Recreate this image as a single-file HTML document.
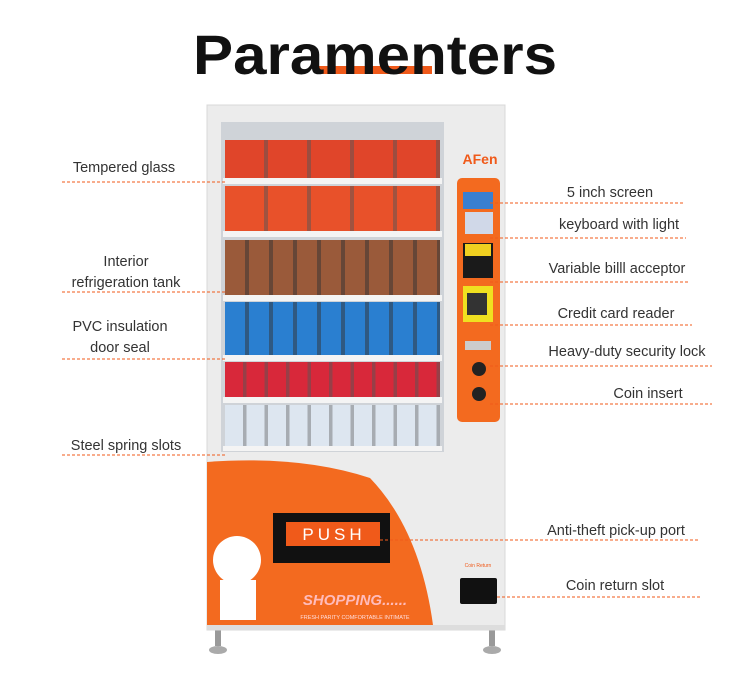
<!DOCTYPE html>
<html><head><meta charset="utf-8"><style>
html,body{margin:0;padding:0;background:#fff;width:750px;height:681px;overflow:hidden}
svg{display:block}
text{font-family:"Liberation Sans",sans-serif}
.l{font-size:14.5px;fill:#333;text-anchor:middle}
.d{stroke:#f05a1a;stroke-width:1;stroke-dasharray:3 2;fill:none}
</style></head><body>
<svg width="750" height="681" viewBox="0 0 750 681">
<defs>
<pattern id="p5" x="225" y="0" width="43" height="10" patternUnits="userSpaceOnUse"><rect x="39" y="0" width="4" height="10" fill="#555"/></pattern>
<pattern id="p9" x="225" y="0" width="24" height="10" patternUnits="userSpaceOnUse"><rect x="20" y="0" width="4" height="10" fill="#333"/></pattern>
<pattern id="p10" x="225" y="0" width="21.5" height="10" patternUnits="userSpaceOnUse"><rect x="18" y="0" width="3.5" height="10" fill="#555"/></pattern>
</defs>
<rect x="317" y="66" width="115" height="8" fill="#f05a1a"/>
<text x="375" y="74" font-size="56" font-weight="bold" text-anchor="middle" fill="#111" textLength="364" lengthAdjust="spacingAndGlyphs">Paramenters</text>

<rect x="215" y="628" width="6" height="18" fill="#999"/><ellipse cx="218" cy="650" rx="9" ry="4" fill="#aaa"/>
<rect x="489" y="628" width="6" height="18" fill="#999"/><ellipse cx="492" cy="650" rx="9" ry="4" fill="#aaa"/>
<rect x="207" y="105" width="298" height="525" fill="#ececec" stroke="#d8d8d8"/>
<rect x="221" y="122" width="223" height="330" fill="#cfd3d8"/>
<g>
<rect x="225" y="140" width="215" height="38" fill="#e0452a"/><rect x="225" y="140" width="215" height="38" fill="url(#p5)" opacity="0.5"/>
<rect x="225" y="186" width="215" height="45" fill="#e8512a"/><rect x="225" y="186" width="215" height="45" fill="url(#p5)" opacity="0.5"/>
<rect x="225" y="240" width="215" height="58" fill="#9a5a3a"/><rect x="225" y="240" width="215" height="58" fill="url(#p9)" opacity="0.5"/>
<rect x="225" y="302" width="215" height="56" fill="#2a7fd0"/><rect x="225" y="302" width="215" height="56" fill="url(#p9)" opacity="0.5"/>
<rect x="225" y="362" width="215" height="36" fill="#d8283a"/><rect x="225" y="362" width="215" height="36" fill="url(#p10)" opacity="0.5"/>
<rect x="225" y="405" width="215" height="42" fill="#dde6f0"/><rect x="225" y="405" width="215" height="42" fill="url(#p10)" opacity="0.4"/>
<g fill="#f4f4f4"><rect x="223" y="178" width="219" height="6"/><rect x="223" y="231" width="219" height="6"/><rect x="223" y="295" width="219" height="6"/><rect x="223" y="355" width="219" height="6"/><rect x="223" y="397" width="219" height="6"/><rect x="223" y="446" width="219" height="5"/></g>
</g>
<text x="480" y="164" font-size="14" font-weight="bold" fill="#f05a1a" text-anchor="middle">AFen</text>
<rect x="457" y="178" width="43" height="244" rx="5" fill="#f36a1f"/>
<rect x="463" y="192" width="30" height="17" fill="#3a7fd0"/>
<rect x="465" y="212" width="28" height="22" fill="#d0d8e8"/>
<rect x="463" y="243" width="30" height="35" fill="#1a1a1a"/><rect x="465" y="244" width="26" height="12" fill="#f0d020"/>
<rect x="463" y="286" width="30" height="36" fill="#f0e020"/><rect x="467" y="293" width="20" height="22" fill="#333"/>
<rect x="465" y="341" width="26" height="9" fill="#ccc"/>
<circle cx="479" cy="369" r="7" fill="#222"/><circle cx="479" cy="394" r="7" fill="#222"/>
<path d="M207 462 Q300 455 370 478 Q420 530 433 625 L207 625 Z" fill="#f36a1f"/>
<rect x="273" y="513" width="117" height="50" fill="#111"/>
<rect x="286" y="522" width="94" height="24" fill="#f05a1a"/>
<text x="334" y="540" font-size="17" fill="#fff" text-anchor="middle" letter-spacing="4">PUSH</text>
<circle cx="237" cy="560" r="24" fill="#fff"/><rect x="220" y="580" width="36" height="40" fill="#fff"/>
<text x="355" y="605" font-size="15" font-weight="bold" font-style="italic" fill="#fbb" text-anchor="middle">SHOPPING......</text>
<text x="355" y="619" font-size="5.5" fill="#fdd" text-anchor="middle">FRESH PARITY COMFORTABLE INTIMATE</text>
<text x="478" y="567" font-size="5" fill="#f05a1a" text-anchor="middle">Coin Return</text>
<rect x="460" y="578" width="37" height="26" rx="2" fill="#111"/>
<rect x="207" y="625" width="298" height="5" fill="#ddd"/>

<text class="l" x="124" y="172">Tempered glass</text>
<line class="d" x1="62" y1="182" x2="225" y2="182"/>
<text class="l" x="126" y="266">Interior</text>
<text class="l" x="126" y="287">refrigeration tank</text>
<line class="d" x1="62" y1="292" x2="225" y2="292"/>
<text class="l" x="120" y="331">PVC insulation</text>
<text class="l" x="120" y="352">door seal</text>
<line class="d" x1="62" y1="359" x2="225" y2="359"/>
<text class="l" x="126" y="450">Steel spring slots</text>
<line class="d" x1="62" y1="455" x2="225" y2="455"/>

<text class="l" x="610" y="197">5 inch screen</text>
<line class="d" x1="490" y1="203" x2="683" y2="203"/>
<text class="l" x="619" y="229">keyboard with light</text>
<line class="d" x1="490" y1="238" x2="686" y2="238"/>
<text class="l" x="617" y="273">Variable billl acceptor</text>
<line class="d" x1="490" y1="282" x2="690" y2="282"/>
<text class="l" x="616" y="318">Credit card reader</text>
<line class="d" x1="490" y1="325" x2="692" y2="325"/>
<text class="l" x="627" y="356">Heavy-duty security lock</text>
<line class="d" x1="490" y1="366" x2="712" y2="366"/>
<text class="l" x="648" y="398">Coin insert</text>
<line class="d" x1="490" y1="404" x2="712" y2="404"/>
<text class="l" x="616" y="535">Anti-theft pick-up port</text>
<line class="d" x1="380" y1="540" x2="700" y2="540"/>
<text class="l" x="615" y="590">Coin return slot</text>
<line class="d" x1="497" y1="597" x2="700" y2="597"/>
</svg>
</body></html>
